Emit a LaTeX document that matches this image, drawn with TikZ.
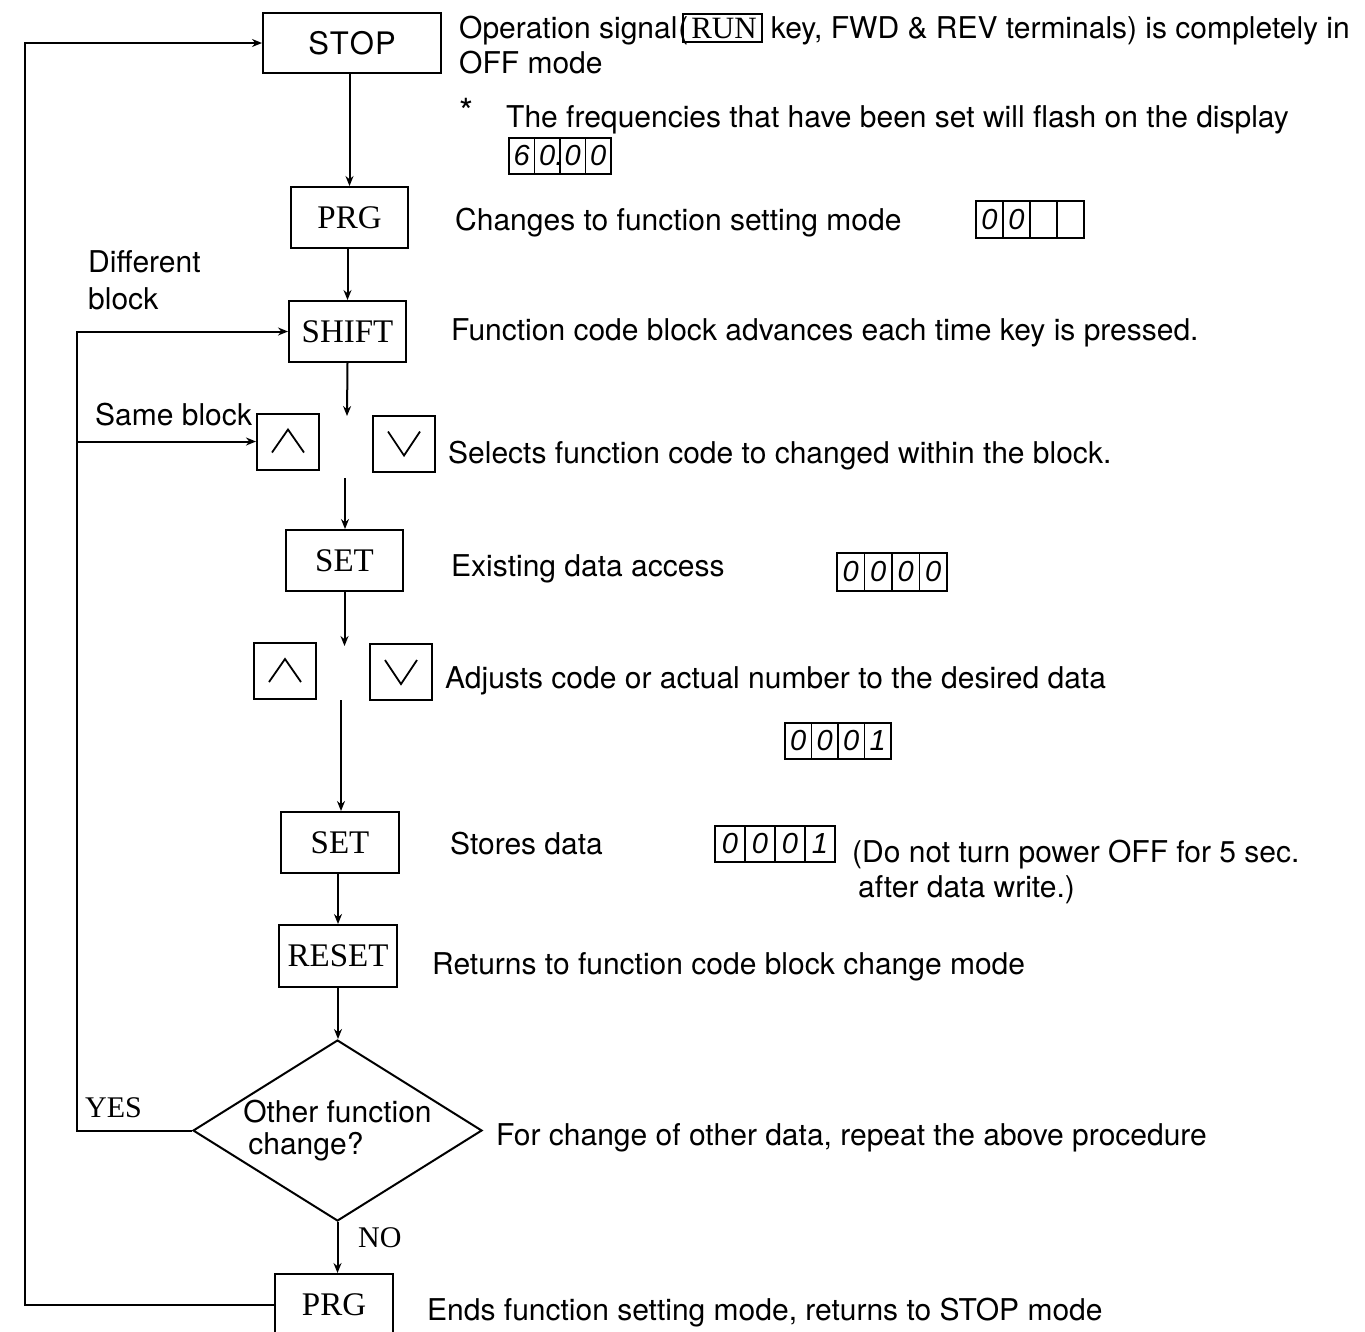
\documentclass[tikz,border=0pt]{standalone}
\usepackage{fontspec}
\setmainfont{TeX Gyre Heros}
\newfontfamily\keyfont{Liberation Serif}
\newfontfamily\digfont{Liberation Sans}
\usetikzlibrary{shapes.geometric,arrows.meta}
\newcommand\runkey{{\keyfont\fontsize{31}{34}\selectfont\fboxsep=3pt\fboxrule=1.8pt\fbox{\kern4pt RUN\kern1pt}}}
\newcommand\mydisp[6]{%
  \foreach \dd [count=\ii from 0] in {#6} {%
    \node[dispcell, minimum width=#4pt, minimum height=#5pt, anchor=north west]
      (#1-\ii) at ({#2+\ii*#4},#3) {\dd};
  }}
\begin{document}
\begin{tikzpicture}[x=1pt,y=-1pt,
  every node/.style={font=\fontsize{30}{37}\selectfont},
  keybox/.style={draw, line width=2pt, inner sep=0pt, minimum height=61pt,
    font=\keyfont\fontsize{33}{36}\selectfont},
  stopbox/.style={draw, line width=2pt, inner sep=0pt,
    font=\fontsize{31}{34}\selectfont},
  arrowkey/.style={draw, line width=2pt, inner sep=0pt, minimum width=62pt, minimum height=56pt},
  chev/.style={line width=1.8pt},
  dispcell/.style={draw, line width=1.9pt, inner sep=0pt,
    font=\digfont\itshape\fontsize{29}{29}\selectfont},
  txt/.style={anchor=base west, inner sep=0pt},
  lbl/.style={anchor=base west, inner sep=0pt, font=\keyfont\fontsize{30}{34}\selectfont},
  arr/.style={line width=2pt, -{Stealth[length=10pt,width=8pt]}}
]
\clip (0,0) rectangle (1365,1331);
\fill[white] (0,0) rectangle (1365,1331);

% key nodes
\node[stopbox, minimum width=178pt, minimum height=60pt] (stop) at (352,43) {S\kern1ptT\kern1ptO\kern1ptP};
\node[keybox, minimum width=117pt] (prg1) at (349.5,217.5) {PRG};
\node[keybox, minimum width=117pt] (shift) at (347.5,331.5) {SHIFT};
\node[arrowkey] (up1) at (288,441.5) {};
\node[arrowkey] (dn1) at (404,443.5) {};
\node[keybox, minimum width=117pt] (set1) at (344.5,560.5) {SET};
\node[arrowkey] (up2) at (285,671) {};
\node[arrowkey] (dn2) at (401,672) {};
\node[keybox, minimum width=118pt] (set2) at (340,842.5) {SET};
\node[keybox, minimum width=118pt, minimum height=62pt] (reset) at (338,956) {RESET};
\node[diamond, draw, line width=2pt, inner sep=0pt, aspect=1.6,
  minimum width=289pt, minimum height=181pt, align=left,
  font=\fontsize{30}{34}\selectfont] (dec) at (337.5,1130.5) {\raisebox{-6pt}{Other function}\\[-2pt]\,\raisebox{-6pt}{change?}};
\node[keybox, minimum width=118pt, minimum height=62pt] (prg2) at (334,1305) {PRG};

% chevrons
\draw[chev] ([shift={(-16,11)}]up1.center) -- ([shift={(0,-12)}]up1.center) -- ([shift={(16,11)}]up1.center);
\draw[chev] ([shift={(-16,11)}]up2.center) -- ([shift={(0,-12)}]up2.center) -- ([shift={(16,11)}]up2.center);
\draw[chev] ([shift={(-16,-12)}]dn1.center) -- ([shift={(0,12)}]dn1.center) -- ([shift={(16,-12)}]dn1.center);
\draw[chev] ([shift={(-16,-12)}]dn2.center) -- ([shift={(0,12)}]dn2.center) -- ([shift={(16,-12)}]dn2.center);

% main flow
\coordinate (k1) at (347,416);
\coordinate (k1b) at (345,478);
\coordinate (k2) at (343,646);
\coordinate (k2b) at (341,700);
\draw[arr] (stop.south -| prg1) -- (prg1.north);
\draw[arr] (prg1.south -| shift) -- (shift.north);
\draw[arr] (shift.south) -- (k1);
\draw[arr] (k1b) -- (k1b |- set1.north);
\draw[arr] (set1.south) -- (set1.south |- k2);
\draw[arr] (k2b) -- (k2b |- set2.north);
\draw[arr] (set2.south -| reset) -- (reset.north);
\draw[arr] (reset.south) -- (reset.south |- dec.north);
\draw[arr] (dec.south) -- (dec.south |- prg2.north);

% loops
\coordinate (outer) at (25,0);
\coordinate (inner) at (77,0);
\draw[arr] (prg2.west) -- (prg2.west -| outer) |- (stop.west);
\draw[arr] (dec.west) -| (inner |- shift.west) -- (shift.west);
\draw[arr] (inner |- up1.west) -- (up1.west);

% labels
\node[txt] (ldiff1) at (88,272) {Different};
\node[txt] (ldiff2) at (88,309) {block};
\node[txt] (lsame) at (95,425) {Same block};
\node[lbl] (lyes) at (85,1117) {YES};
\node[lbl] (lno) at (358,1247) {NO};

% descriptions
\node[txt] (t1) at (459,38) {Operation signal\kern1pt(\kern-6pt\runkey\ key, FWD \& REV terminals) is completely in};
\node[txt] (t1b) at (459,73) {OFF mode};
\node[txt, font=\fontsize{36}{36}\selectfont] (tstar) at (459,124) {*};
\node[txt] (t2) at (506,127) {The frequencies that have been set will flash on the display};
\node[txt] (t3) at (455,230) {Changes to function setting mode};
\node[txt] (t4) at (451,340) {Function code block advances each time key is pressed.};
\node[txt] (t5) at (448,463) {Selects function code to changed within the block.};
\node[txt] (t6) at (451,576) {Existing data access};
\node[txt] (t7) at (445,688) {Adjusts code or actual number to the desired data};
\node[txt] (t8) at (450,854) {Stores data};
\node[txt] (t9) at (852,862) {(Do not turn power OFF for 5 sec.};
\node[txt] (t9b) at (858,897) {after data write.)};
\node[txt] (t10) at (432,974) {Returns to function code block change mode};
\node[txt] (t11) at (496,1145) {For change of other data, repeat the above procedure};
\node[txt] (t12) at (427,1320) {Ends function setting mode, returns to STOP mode};

% displays
\mydisp{dA}{508}{137}{25.5}{36}{6,0\rlap{.},0,0}
\mydisp{dB}{975}{200}{27}{37}{0,0,{},{}}
\mydisp{dC}{836}{552}{27.5}{38}{0,0,0,0}
\mydisp{dD}{784}{722}{26.5}{36}{0,0,0,1}
\mydisp{dE}{714}{825}{30}{36}{0,0,0,1}
\end{tikzpicture}
\end{document}
